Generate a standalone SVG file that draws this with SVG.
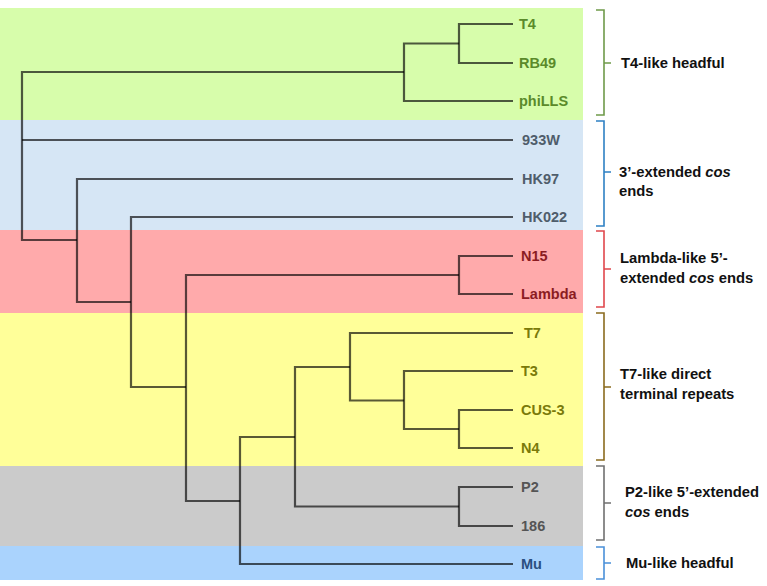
<svg xmlns="http://www.w3.org/2000/svg" width="767" height="586" viewBox="0 0 767 586">
<style>
.leaf{font-family:"Liberation Sans",Arial,sans-serif;font-weight:bold;font-size:14.5px}
.grp{font-family:"Liberation Sans",Arial,sans-serif;font-weight:bold;font-size:14.8px;fill:#111}
.tree path{fill:none;stroke:#000;stroke-opacity:0.65;stroke-width:2.2}
.br{fill:none;stroke-width:1.6}
</style>
<rect width="767" height="586" fill="#fff"/>
<g id="bands">
<rect x="0" y="8" width="583" height="112" fill="#d7fdab"/>
<rect x="0" y="120" width="583" height="110" fill="#d6e6f5"/>
<rect x="0" y="230" width="583" height="83" fill="#ffaaab"/>
<rect x="0" y="313" width="583" height="153" fill="#ffff99"/>
<rect x="0" y="466" width="583" height="80" fill="#cbcbcb"/>
<rect x="0" y="546" width="583" height="34" fill="#aad3fd"/>
</g>
<g id="connectors" class="tree">
<path d="M404,72 H22 V240 H77"/>
<path d="M22,140 H513"/>
<path d="M513,24 H459 V63 H513"/>
<path d="M459,43.5 H404 V101 H513"/>
<path d="M513,179 H77 V302 H131"/>
<path d="M513,217 H131 V387 H186"/>
<path d="M513,256 H459 V294 H513"/>
<path d="M459,275 H186 V501 H240"/>
<path d="M295,437 H240 V564 H513"/>
<path d="M350,367 H295 V506.5 H459"/>
<path d="M513,487 H459 V526 H513"/>
<path d="M513,333 H350 V400.5 H404"/>
<path d="M513,371 H404 V429 H459"/>
<path d="M513,410 H459 V448 H513"/>
</g>
<g id="leaves" class="leaf">
<g id="n-T4"><text x="519" y="29" fill="#5a8a2a">T4</text></g>
<g id="n-RB49"><text x="519" y="68" fill="#5a8a2a">RB49</text></g>
<g id="n-phiLLS"><text x="519" y="106" fill="#5a8a2a">phiLLS</text></g>
<g id="n-933W"><text x="522" y="145" fill="#4f5d6b">933W</text></g>
<g id="n-HK97"><text x="522" y="184" fill="#4f5d6b">HK97</text></g>
<g id="n-HK022"><text x="522" y="222" fill="#4f5d6b">HK022</text></g>
<g id="n-N15"><text x="521" y="261" fill="#8b1c22">N15</text></g>
<g id="n-Lambda"><text x="521" y="299" fill="#8b1c22">Lambda</text></g>
<g id="n-T7"><text x="524" y="338" fill="#7a7a0a">T7</text></g>
<g id="n-T3"><text x="521" y="376" fill="#7a7a0a">T3</text></g>
<g id="n-CUS-3"><text x="521" y="415" fill="#7a7a0a">CUS-3</text></g>
<g id="n-N4"><text x="521" y="453" fill="#7a7a0a">N4</text></g>
<g id="n-P2"><text x="521" y="492" fill="#555">P2</text></g>
<g id="n-186"><text x="521" y="531" fill="#555">186</text></g>
<g id="n-Mu"><text x="521" y="569" fill="#2b4f80">Mu</text></g>
</g>
<g id="g-T4like">
<path class="br" stroke="#6f9a4a" d="M596,10 H604 V115 H596 M604,63 H611"/>
<text class="grp" x="621" y="68">T4-like headful</text>
</g>
<g id="g-3ext">
<path class="br" stroke="#2e80c4" d="M596,121 H604 V226 H596 M604,172 H611"/>
<text class="grp" x="619" y="177">3’-extended <tspan font-style="italic">cos</tspan></text>
<text class="grp" x="619" y="196">ends</text>
</g>
<g id="g-lambda">
<path class="br" stroke="#e0474c" d="M596,231 H604 V307 H596 M604,269 H611"/>
<text class="grp" x="620" y="263">Lambda-like 5’-</text>
<text class="grp" x="620" y="283">extended <tspan font-style="italic">cos</tspan> ends</text>
</g>
<g id="g-T7like">
<path class="br" stroke="#8b6b1e" d="M596,313 H604 V460 H596 M604,387 H611"/>
<text class="grp" x="620" y="379">T7-like direct</text>
<text class="grp" x="620" y="399">terminal repeats</text>
</g>
<g id="g-P2like">
<path class="br" stroke="#707070" d="M596,466 H604 V540 H596 M604,503 H611"/>
<text class="grp" x="625" y="497">P2-like 5’-extended</text>
<text class="grp" x="625" y="517"><tspan font-style="italic">cos</tspan> ends</text>
</g>
<g id="g-Mulike">
<path class="br" stroke="#4a90d9" d="M596,547 H604 V579 H596 M604,563 H611"/>
<text class="grp" x="626" y="568">Mu-like headful</text>
</g>
</svg>
